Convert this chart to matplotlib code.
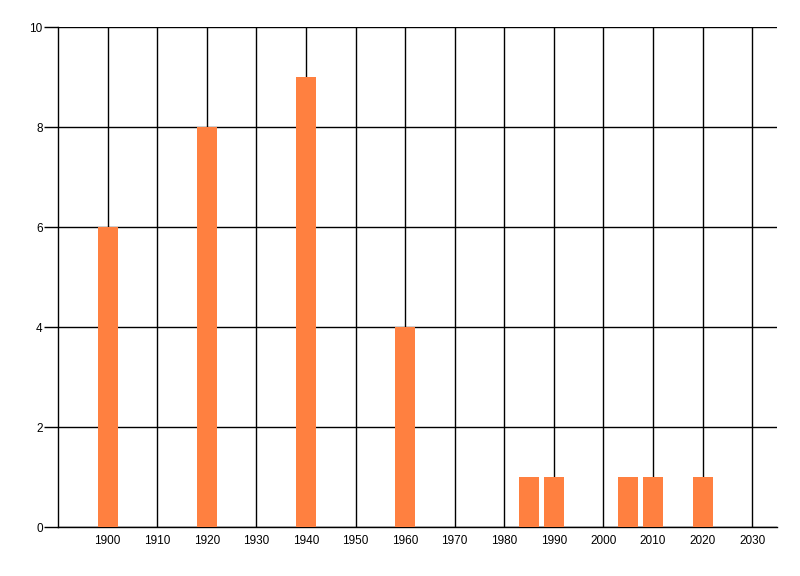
import matplotlib
matplotlib.use('Agg')
import matplotlib.pyplot as plt

years = [1900, 1920, 1940, 1960, 1985, 1990, 2005, 2010, 2020]
counts = [6, 8, 9, 4, 1, 1, 1, 1, 1]
x_ticks = list(range(1900, 2031, 10))
y_ticks = [0, 2, 4, 6, 8, 10]

plt.rcParams['font.family'] = ['Liberation Sans', 'DejaVu Sans']

fig = plt.figure(figsize=(8, 5.76), dpi=100)
ax = fig.add_axes([58 / 800, 49 / 576, 719 / 800, 500 / 576])

ax.bar(years, counts, width=4, color='#FF8040', zorder=3)

ax.set_xlim(1890, 2035)
ax.set_ylim(0, 10)
ax.set_xticks(x_ticks)
ax.set_yticks(y_ticks)
ax.grid(True, color='black', linewidth=1, zorder=1)
ax.set_axisbelow(True)

for side in ['top', 'right']:
    ax.spines[side].set_visible(False)
ax.spines['left'].set_linewidth(1)
ax.spines['bottom'].set_linewidth(1)

ax.tick_params(axis='y', length=10, width=1, pad=1, labelsize=8.5)
ax.tick_params(axis='x', length=0, pad=6, labelsize=8.5)

fig.savefig('out.png', dpi=100)
